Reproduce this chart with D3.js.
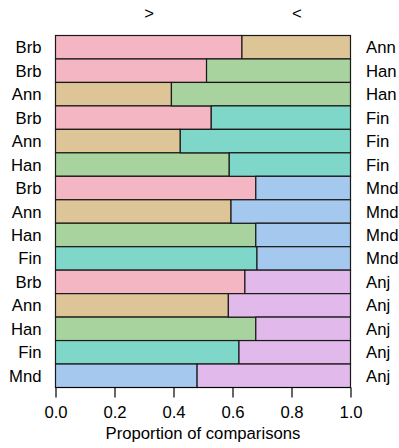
<!DOCTYPE html>
<html>
<head>
<meta charset="utf-8">
<script src="https://cdn.jsdelivr.net/npm/d3@7"></script>
<style>
  html, body { margin: 0; padding: 0; background: #fff; }
  svg { display: block; font-family: "Liberation Sans", Arial, sans-serif; }
</style>
</head>
<body>
<svg id="chart" width="399" height="448"></svg>
<script>
// Pairwise comparisons: left item, right item, share of comparisons won by the left item
const leftNames  = ["Brb","Brb","Ann","Brb","Ann","Han","Brb","Ann","Han","Fin","Brb","Ann","Han","Fin","Mnd"];
const rightNames = ["Ann","Han","Han","Fin","Fin","Fin","Mnd","Mnd","Mnd","Mnd","Anj","Anj","Anj","Anj","Anj"];
const leftShare  = [0.632,0.512,0.393,0.528,0.423,0.589,0.679,0.595,0.679,0.683,0.642,0.586,0.679,0.622,0.480];
const xTicks     = [0, 0.2, 0.4, 0.6, 0.8, 1.0];
const itemNames  = ["Brb","Ann","Han","Fin","Mnd","Anj"];
const itemColors = ["#F5B6C3","#DEC597","#A9D39E","#7FD7C9","#A5C9EE","#E1B9EB"];

const FS = 16.7;
const svg = d3.select("#chart");
const color = d3.scaleOrdinal().domain(itemNames).range(itemColors);

const x = d3.scaleLinear().domain([0, 1]).range([55.5, 350.5]);
const y = d3.scaleBand().domain(d3.range(leftNames.length)).range([35.5, 387.5]).padding(0);

const rows = leftNames.map((l, i) => ({ i, left: l, right: rightNames[i], p: leftShare[i] }));

const g = svg.append("g");

// left segment
g.selectAll("rect.left").data(rows).join("rect")
  .attr("class", "left")
  .attr("x", x(0))
  .attr("y", d => y(d.i))
  .attr("width", d => x(d.p) - x(0))
  .attr("height", y.bandwidth())
  .attr("fill", d => color(d.left))
  .attr("stroke", "#1a1a1a")
  .attr("stroke-width", 1.2);

// right segment
g.selectAll("rect.right").data(rows).join("rect")
  .attr("class", "right")
  .attr("x", d => x(d.p))
  .attr("y", d => y(d.i))
  .attr("width", d => x(1) - x(d.p))
  .attr("height", y.bandwidth())
  .attr("fill", d => color(d.right))
  .attr("stroke", "#1a1a1a")
  .attr("stroke-width", 1.2);

// row labels
svg.selectAll("text.lname").data(rows).join("text")
  .attr("class", "lname")
  .attr("x", 41.5)
  .attr("y", d => y(d.i) + y.bandwidth() / 2)
  .attr("dy", "0.36em")
  .attr("text-anchor", "end")
  .attr("font-size", FS)
  .attr("fill", "#000")
  .text(d => d.left);

svg.selectAll("text.rname").data(rows).join("text")
  .attr("class", "rname")
  .attr("x", 366)
  .attr("y", d => y(d.i) + y.bandwidth() / 2)
  .attr("dy", "0.36em")
  .attr("text-anchor", "start")
  .attr("font-size", FS)
  .attr("fill", "#000")
  .text(d => d.right);

// direction markers above the bars
svg.append("text").attr("x", x(0.317)).attr("y", 19).attr("text-anchor", "middle")
  .attr("font-size", FS).text(">");
svg.append("text").attr("x", x(0.818)).attr("y", 19).attr("text-anchor", "middle")
  .attr("font-size", FS).text("<");

// x axis
const axis = svg.append("g")
  .attr("transform", `translate(0,${y.range()[1]})`)
  .call(d3.axisBottom(x).tickValues(xTicks).tickFormat(d3.format(".1f")).tickSize(10).tickPadding(9));
axis.select(".domain").attr("stroke", "#000").attr("stroke-width", 1.2).attr("d", `M${x(0)},0H${x(1)}`);
axis.selectAll(".tick line").attr("stroke", "#000").attr("stroke-width", 1.2);
axis.selectAll(".tick text").attr("font-size", FS).attr("fill", "#000")
  .attr("font-family", "Liberation Sans, Arial, sans-serif");

svg.append("text")
  .attr("x", (x(0) + x(1)) / 2)
  .attr("y", 438.5)
  .attr("text-anchor", "middle")
  .attr("font-size", FS)
  .text("Proportion of comparisons");
</script>
</body>
</html>
